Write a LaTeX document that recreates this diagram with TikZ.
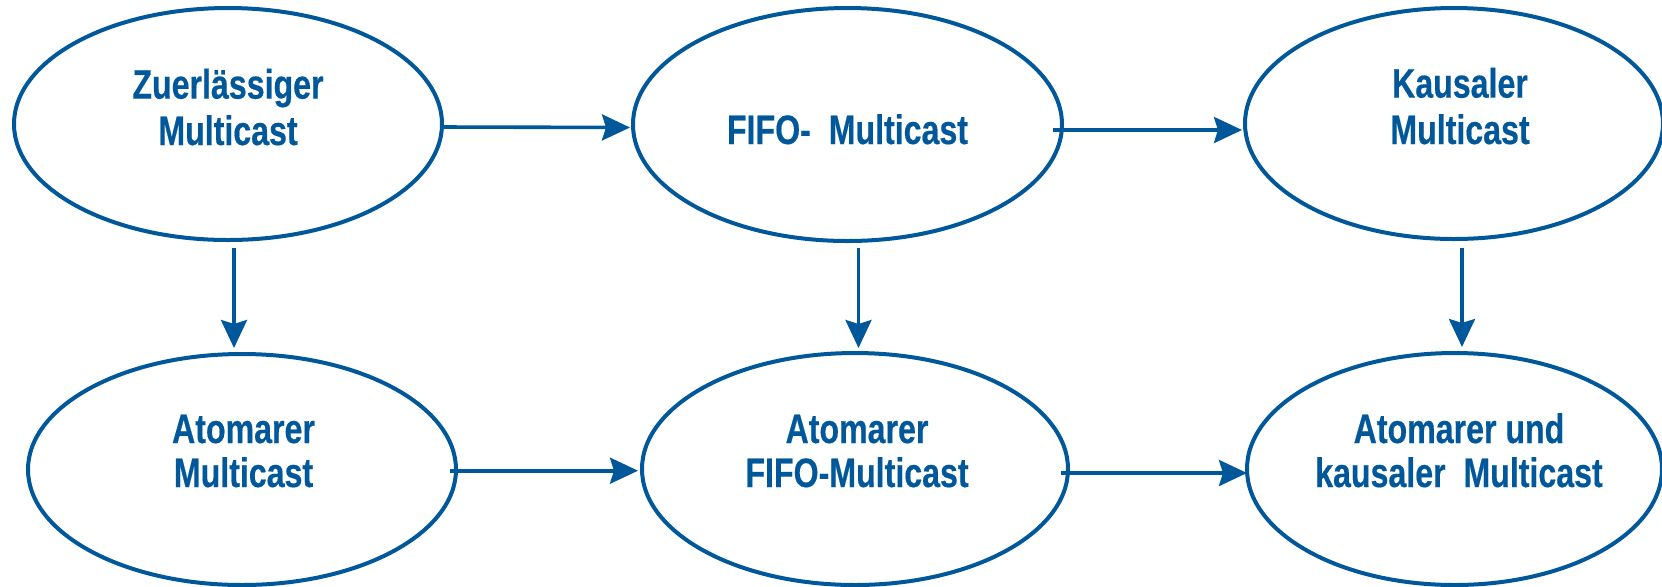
\documentclass[tikz,border=0pt]{standalone}
\usepackage{fontspec}
\newfontfamily\lblfont{Liberation Sans}[FakeStretch=0.78,FakeBold=0.4]
\usetikzlibrary{shapes.geometric,arrows.meta}
\definecolor{mcblue}{RGB}{0,88,155}
\begin{document}
\begin{tikzpicture}[x=0.5pt,y=-0.5pt,
  ell/.style={ellipse,draw=mcblue,line width=2pt,inner sep=0pt,outer sep=0pt},
  lbl/.style={text=mcblue,align=center,inner sep=0pt,anchor=base,
    font=\lblfont\bfseries\fontsize{20.6}{23.2}\selectfont},
  lblb/.style={lbl,font=\lblfont\bfseries\fontsize{20.6}{22}\selectfont},
  arr/.style={draw=mcblue,line width=1.8pt,
    -{Stealth[length=14pt,width=13pt,inset=2pt]}}]
\useasboundingbox (0,0) rectangle (1662,586);

% states of the multicast hierarchy
\node[ell,minimum width=214pt,minimum height=116pt] (zm) at (228,124) {};
\node[ell,minimum width=214.5pt,minimum height=116.5pt] (fm) at (847.5,124.5) {};
\node[ell,minimum width=209pt,minimum height=115.5pt] (km) at (1454,123.5) {};
\node[ell,minimum width=214pt,minimum height=115.5pt] (am) at (242,469.5) {};
\node[ell,minimum width=213pt,minimum height=116pt] (afm) at (855,469) {};
\node[ell,minimum width=207.5pt,minimum height=116pt] (akm) at (1454.5,469) {};

% labels (anchored at the baseline of their last line)
\node[lbl] (tzm) at (228,145) {Zuerlässiger\\Multicast};
\node[lbl] (tfm) at (847.5,144) {FIFO-\ \ Multicast};
\node[lbl] (tkm) at (1460,144) {Kausaler\\Multicast};
\node[lblb] (tam) at (243.5,487) {Atomarer\\Multicast};
\node[lblb] (tafm) at (857,487) {Atomarer\\FIFO-Multicast};
\node[lblb] (takm) at (1459,487) {Atomarer und\\kausaler\ \ Multicast};

% horizontal connectors
\draw[arr] ([yshift=-1.5pt]zm.east) -- ([xshift=-1.5pt,yshift=-1.5pt]fm.west);
\draw[arr] ([xshift=-4.5pt,yshift=-2.75pt]fm.east) -- ([xshift=-1.5pt,yshift=-3.25pt]km.west);
\draw[arr] ([xshift=-3pt,yshift=-0.6pt]am.east) -- ([xshift=-2pt,yshift=-0.85pt]afm.west);
\draw[arr] ([xshift=-3.5pt,yshift=-2pt]afm.east) -- ([yshift=-2pt]akm.west);

% vertical connectors
\draw[arr] ([xshift=3pt,yshift=-4pt]zm.south) -- ([xshift=-4pt,yshift=3pt]am.north);
\draw[arr] ([xshift=5.5pt,yshift=-3.5pt]fm.south) -- ([xshift=1.75pt,yshift=2.5pt]afm.north);
\draw[arr] ([xshift=4pt,yshift=-4.5pt]km.south) -- ([xshift=3.75pt,yshift=3pt]akm.north);
\end{tikzpicture}
\end{document}
